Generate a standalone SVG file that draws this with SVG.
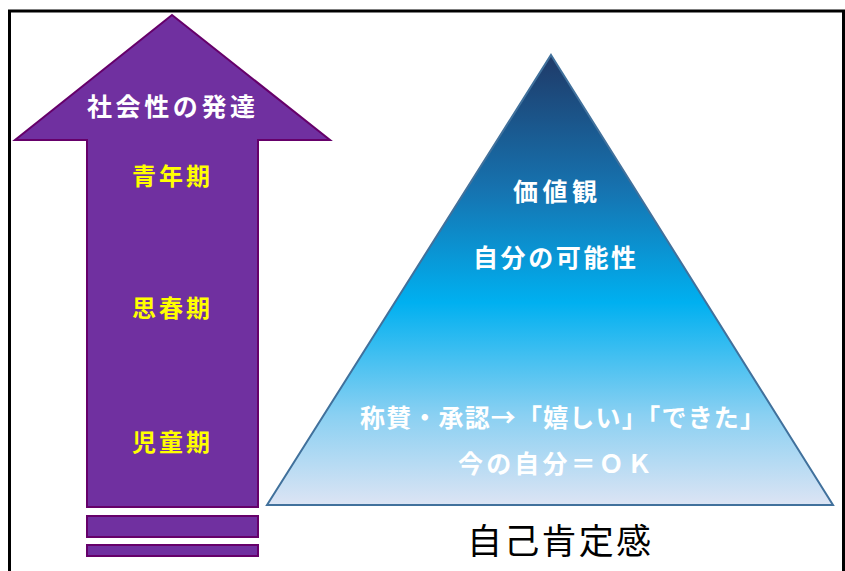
<svg xmlns="http://www.w3.org/2000/svg" width="845" height="571" viewBox="0 0 845 571">
<style>
.pur{fill:#7030a0;stroke:#66006a;stroke-width:2}
.w{fill:#ffffff;font-family:"Noto Sans CJK JP","Noto Sans",sans-serif;font-weight:bold;font-size:25px}
.y{fill:#ffff00;font-family:"Noto Sans CJK JP","Noto Sans",sans-serif;font-weight:bold;font-size:24px}
.k{fill:#000000;font-family:"Noto Sans CJK JP","Noto Sans",sans-serif;font-size:35px}
</style>
<defs>
<linearGradient id="tg" x1="0" y1="0" x2="0" y2="1">
<stop offset="0" stop-color="#1f3a68"/>
<stop offset="0.3" stop-color="#1673b0"/>
<stop offset="0.55" stop-color="#00b0f0"/>
<stop offset="0.8" stop-color="#8ad0f2"/>
<stop offset="1" stop-color="#dce4f4"/>
</linearGradient>
</defs>
<rect x="0" y="0" width="845" height="571" fill="#ffffff"/>
<rect id="frame" x="9.5" y="11" width="834" height="620" fill="none" stroke="#000" stroke-width="3"/>
<g id="arrow">
<polygon class="pur" points="172,15 330,140 258,140 258,507 87,507 87,140 15,140"/>
<rect class="pur" x="87" y="516" width="171" height="21"/>
<rect class="pur" x="87" y="545" width="171" height="11"/>
<text class="w" x="87" y="116" textLength="168">社会性の発達</text>
<text class="y" x="132" y="185" textLength="78">青年期</text>
<text class="y" x="132" y="317" textLength="78">思春期</text>
<text class="y" x="132" y="451" textLength="78">児童期</text>
</g>
<g id="pyramid">
<polygon points="551,55 833,505 267,505" fill="url(#tg)" stroke="#41719c" stroke-width="2"/>
<text class="w" x="513" y="201" textLength="84">価値観</text>
<text class="w" x="473" y="267" textLength="163">自分の可能性</text>
<text class="w" x="360" y="427" textLength="405">称賛・承認→「嬉しい」「できた」</text>
<text class="w" x="458" y="473" textLength="194">今の自分＝ＯＫ</text>
</g>
<g id="label">
<text class="k" x="467" y="554" textLength="184">自己肯定感</text>
</g>
<g id="connectors"/>
</svg>
